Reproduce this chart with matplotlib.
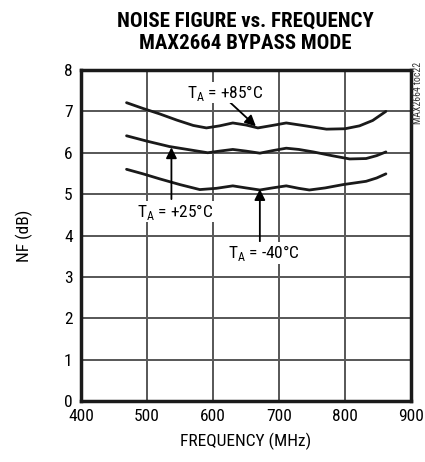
import matplotlib
matplotlib.use("Agg")
import matplotlib.pyplot as plt

freq_85 = [469, 494, 519, 545, 570, 590, 610, 630, 650, 668, 690, 711, 740, 772, 800, 822, 842, 862]
nf_85 = [7.21, 7.07, 6.94, 6.79, 6.66, 6.60, 6.65, 6.72, 6.67, 6.60, 6.66, 6.72, 6.65, 6.57, 6.58, 6.65, 6.78, 7.00]

freq_25 = [469, 500, 534, 565, 592, 610, 630, 650, 671, 690, 711, 730, 752, 780, 807, 832, 848, 862]
nf_25 = [6.41, 6.28, 6.15, 6.07, 6.00, 6.04, 6.08, 6.04, 5.99, 6.05, 6.11, 6.08, 6.02, 5.93, 5.85, 5.86, 5.93, 6.02]

freq_m40 = [469, 494, 519, 550, 580, 605, 630, 650, 671, 690, 711, 730, 746, 770, 797, 832, 848, 862]
nf_m40 = [5.60, 5.49, 5.37, 5.23, 5.11, 5.14, 5.20, 5.15, 5.10, 5.15, 5.20, 5.14, 5.10, 5.15, 5.23, 5.31, 5.39, 5.49]

x_ticks = [400, 500, 600, 700, 800, 900]
y_ticks = [0, 1, 2, 3, 4, 5, 6, 7, 8]

FONT = ['Roboto Condensed', 'DejaVu Sans']
plt.rcParams['font.family'] = FONT

fig = plt.figure(figsize=(4.25, 4.62), dpi=100)
ax = fig.add_axes([0.1906, 0.132, 0.7764, 0.7165])
ax.set_facecolor('white')

ax.set_xlim(400, 900)
ax.set_ylim(0, 8)
ax.set_xticks(x_ticks)
ax.set_yticks(y_ticks)
ax.tick_params(length=0, labelsize=12.5, pad=6)
for xv in x_ticks[1:-1]:
    ax.plot([xv, xv], [0, 8], color='#5a5a5a', linewidth=1.3, zorder=2,
            antialiased=False)
for yv in y_ticks[1:-1]:
    ax.plot([400, 900], [yv, yv], color='#5a5a5a', linewidth=1.3, zorder=2,
            antialiased=False)
for s in ax.spines.values():
    s.set_linewidth(2.5)
    s.set_color('#1a1a1a')

for f, n in [(freq_85, nf_85), (freq_25, nf_25), (freq_m40, nf_m40)]:
    ax.plot(f, n, color='#1a1a1a', linewidth=2.0, solid_capstyle='round',
            solid_joinstyle='round', zorder=3)

ap = dict(arrowstyle='-|>', color='black', lw=1.3, mutation_scale=16, shrinkA=0, shrinkB=0)
ax.annotate('', xy=(665, 6.64), xytext=(625, 7.23), arrowprops=ap, zorder=4)
ax.text(618, 7.45, r'T$_\mathregular{A}$ = +85°C', ha='center', va='center', fontsize=12.5,
        bbox=dict(facecolor='white', edgecolor='none', pad=0.5), zorder=4)
ax.annotate('', xy=(537, 6.13), xytext=(537, 4.88), arrowprops=ap, zorder=4)
ax.text(542, 4.58, r'T$_\mathregular{A}$ = +25°C', ha='center', va='center', fontsize=12.5,
        bbox=dict(facecolor='white', edgecolor='none', pad=0.5), zorder=4)
ax.annotate('', xy=(671, 5.12), xytext=(671, 3.86), arrowprops=ap, zorder=4)
ax.text(677, 3.58, r'T$_\mathregular{A}$ = -40°C', ha='center', va='center', fontsize=12.5,
        bbox=dict(facecolor='white', edgecolor='none', pad=0.5), zorder=4)

ax.set_xlabel('FREQUENCY (MHz)', fontsize=12.5, labelpad=6)
ax.set_ylabel('NF (dB)', fontsize=12.5, labelpad=22)

fig.text(0.577, 0.955, 'NOISE FIGURE vs. FREQUENCY', ha='center', va='center',
         fontsize=15, fontweight='heavy')
fig.text(0.577, 0.905, 'MAX2664 BYPASS MODE', ha='center', va='center',
         fontsize=15, fontweight='heavy')
fig.text(0.983, 0.867, 'MAX2664 toc22', rotation=90, ha='center', va='top', fontsize=7, color='#333333')

fig.savefig('out.png', dpi=100)
